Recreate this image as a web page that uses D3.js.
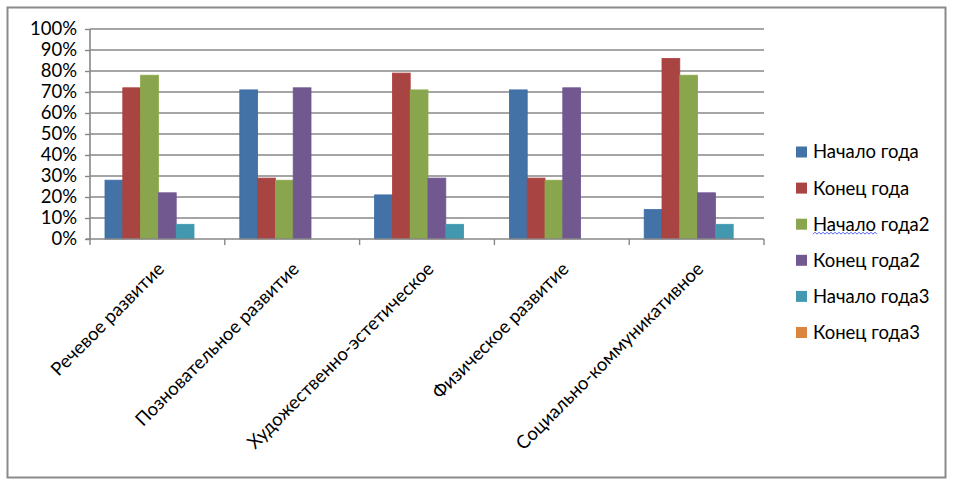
<!DOCTYPE html>
<html><head><meta charset="utf-8">
<script src="https://cdn.jsdelivr.net/npm/d3@7"></script>
<style>body{margin:0;background:#fff;}svg{display:block;}</style>
</head><body>
<script>
const categories = ["Речевое развитие","Позновательное развитие","Художественно-эстетическое","Физическое развитие","Социально-коммуникативное"];
const seriesNames = ["Начало года","Конец года","Начало года2","Конец года2","Начало года3","Конец года3"];
const nachaloGoda  = [0.28, 0.71, 0.21, 0.71, 0.14];
const konecGoda    = [0.72, 0.29, 0.79, 0.29, 0.86];
const nachaloGoda2 = [0.78, 0.28, 0.71, 0.28, 0.78];
const konecGoda2   = [0.22, 0.72, 0.29, 0.72, 0.22];
const nachaloGoda3 = [0.07, 0, 0.07, 0, 0.07];
const konecGoda3   = [0, 0, 0, 0, 0];
const yTicks = [0,0.1,0.2,0.3,0.4,0.5,0.6,0.7,0.8,0.9,1.0];

const seriesValues = [nachaloGoda, konecGoda, nachaloGoda2, konecGoda2, nachaloGoda3, konecGoda3];
const colors = ["#4372A7","#A84442","#89A54E","#71588F","#4198AF","#DB843D"];
const strokes = ["#3A6BAA","#B0403C","#8CAA48","#6E5693","#3A9AB4","#E08030"];

const W = 953, H = 485;
const svg = d3.select("body").append("svg").attr("width", W).attr("height", H);
const FONT = "Lato, 'Open Sans', sans-serif";
const FS = 18.5;

svg.append("rect").attr("x", 7.5).attr("y", 7.5).attr("width", 938).attr("height", 470)
  .attr("fill", "#fff").attr("stroke", "#8a8a8a").attr("stroke-width", 2);

const pL = 90, pR = 764, pT = 29, pB = 239;
const x0 = d3.scaleBand().domain(categories).range([pL, pR]).padding(0);
const bw = x0.bandwidth();
const x1 = d3.scaleBand().domain(seriesNames).range([15, bw - 13]).padding(0);
const y = d3.scaleLinear().domain([0, 1]).range([pB, pT]);

// gridlines
svg.append("g").selectAll("line").data(yTicks.filter(d => d > 0)).join("line")
  .attr("x1", pL).attr("x2", pR).attr("y1", d => y(d)).attr("y2", d => y(d))
  .attr("stroke", "#878787").attr("stroke-width", 1.4);

// bars
const g = svg.append("g");
seriesNames.forEach((s, si) => {
  g.append("g").selectAll("rect").data(categories).join("rect")
    .attr("x", c => x0(c) + x1(s))
    .attr("width", x1.bandwidth())
    .attr("y", (c, ci) => y(seriesValues[si][ci]))
    .attr("height", (c, ci) => pB - y(seriesValues[si][ci]))
    .attr("fill", colors[si])
    .attr("stroke", strokes[si]).attr("stroke-width", 0.8)
    .attr("display", (c, ci) => seriesValues[si][ci] > 0 ? null : "none");
});

// y axis
const yAxis = d3.axisLeft(y).tickValues(yTicks).tickFormat(d3.format(".0%")).tickSize(5).tickPadding(8);
const ya = svg.append("g").attr("transform", `translate(${pL},0)`).call(yAxis);
ya.select(".domain").attr("stroke", "#878787").attr("stroke-width", 1.6).attr("d", `M0,${pT}V${pB}`);
ya.selectAll(".tick line").attr("stroke", "#878787").attr("stroke-width", 1.4);
ya.selectAll(".tick text").attr("font-family", FONT).attr("font-size", FS).attr("fill", "#000");

// x axis
const xa = svg.append("g").attr("transform", `translate(0,${pB})`);
xa.append("line").attr("x1", pL - 4).attr("x2", pR).attr("stroke", "#878787").attr("stroke-width", 1.6);
const bounds = categories.map(c => x0(c)).concat([pR]);
xa.selectAll("line.t").data(bounds).join("line").attr("class", "t")
  .attr("x1", d => d).attr("x2", d => d).attr("y1", 0).attr("y2", 6)
  .attr("stroke", "#878787").attr("stroke-width", 1.4);
xa.selectAll("text").data(categories).join("text")
  .attr("transform", c => `translate(${x0(c) + bw / 2 + 8},${31}) rotate(-45)`)
  .attr("text-anchor", "end")
  .attr("font-family", FONT).attr("font-size", FS).attr("fill", "#000")
  .text(c => c);

// legend
const lg = svg.append("g").attr("transform", "translate(796,152)");
seriesNames.forEach((s, i) => {
  const row = lg.append("g").attr("transform", `translate(0,${i * 36.1})`);
  row.append("rect").attr("x", 0).attr("y", -5.5).attr("width", 11).attr("height", 11).attr("fill", colors[i]);
  row.append("text").attr("x", 17).attr("y", 0).attr("dy", "0.35em")
    .attr("font-family", FONT).attr("font-size", FS).attr("fill", "#000").text(s);
  if (i === 2) {
    const tmp = row.append("text").attr("font-family", FONT).attr("font-size", FS).text("Начало");
    const wWord = tmp.node().getComputedTextLength();
    tmp.remove();
    let d = `M17,10`;
    for (let xx = 17, k = 0; xx < 17 + wWord; xx += 2, k++) d += `L${xx + 2},${k % 2 ? 10 : 8}`;
    row.append("path").attr("d", d).attr("fill", "none").attr("stroke", "#3b4cf0").attr("stroke-width", 0.9);
  }
});
</script>
</body></html>
